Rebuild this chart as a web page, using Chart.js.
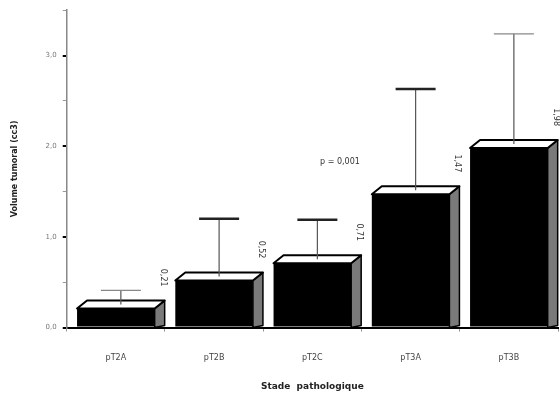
<!DOCTYPE html>
<html>
<head>
<meta charset="utf-8">
<script src="https://cdn.jsdelivr.net/npm/chart.js@4"></script>
<style>
  html, body { margin: 0; padding: 0; background: #fff; }
  #wrap { width: 560px; height: 403px; position: relative; }
</style>
</head>
<body>
<div id="wrap"><canvas id="volumeChart"></canvas></div>
<script>
const stades = ['pT2A', 'pT2B', 'pT2C', 'pT3A', 'pT3B'];
const volumes = [0.21, 0.52, 0.71, 1.47, 1.98];
const errTops = [0.41, 1.20, 1.19, 2.63, 3.24];
const valueLabels = ['0,21', '0,52', '0,71', '1,47', '1,98'];
const pNote = 'p = 0,001';

const depthX = 10;
const depthY = 8;

// draws the fake 3D faces, the error bars and the rotated values
const bar3d = {
  id: 'bar3d',
  afterDatasetsDraw(chart) {
    const c = chart.ctx;
    const y = chart.scales.y;
    const meta = chart.getDatasetMeta(0);
    const base = y.getPixelForValue(0);
    meta.data.forEach((bar, i) => {
      const x0 = bar.x - bar.width / 2;
      const x1 = bar.x + bar.width / 2;
      const top = bar.y;
      c.save();
      c.lineJoin = 'round';
      // side
      c.beginPath();
      c.moveTo(x1, top);
      c.lineTo(x1 + depthX, top - depthY);
      c.lineTo(x1 + depthX, base - 2);
      c.lineTo(x1, base);
      c.closePath();
      c.fillStyle = '#7a7a7a';
      c.fill();
      c.strokeStyle = '#000';
      c.lineWidth = 1.5;
      c.stroke();
      // top face
      c.beginPath();
      c.moveTo(x0, top);
      c.lineTo(x0 + depthX, top - depthY);
      c.lineTo(x1 + depthX, top - depthY);
      c.lineTo(x1, top);
      c.closePath();
      c.fillStyle = '#fff';
      c.fill();
      c.lineWidth = 2;
      c.stroke();
      // error bar
      const ex = bar.x + depthX / 2;
      const ey = y.getPixelForValue(errTops[i]);
      c.beginPath();
      c.moveTo(ex, top - depthY / 2);
      c.lineTo(ex, ey);
      c.strokeStyle = '#555';
      c.lineWidth = 1.2;
      c.stroke();
      c.beginPath();
      c.moveTo(ex - 20, ey);
      c.lineTo(ex + 20, ey);
      c.strokeStyle = (i === 0 || i === 4) ? '#888' : '#222';
      c.lineWidth = (i === 0 || i === 4) ? 1.2 : 2.5;
      c.stroke();
      // rotated value label
      c.translate(x1 + depthX - 2, top - depthY - 14);
      c.rotate(Math.PI / 2);
      c.fillStyle = '#333';
      c.font = '8px "DejaVu Sans"';
      c.textAlign = 'right';
      c.textBaseline = 'middle';
      c.fillText(valueLabels[i], 0, 0);
      c.restore();
    });
    // p value note beside pT3A
    const b3 = meta.data[3];
    c.save();
    c.fillStyle = '#333';
    c.font = '8px "DejaVu Sans"';
    c.textAlign = 'right';
    c.textBaseline = 'middle';
    c.fillText(pNote, b3.x - b3.width / 2 - 12, y.getPixelForValue(1.83));
    c.restore();
  }
};

const ctx = document.getElementById('volumeChart');
const config = {
  type: 'bar',
  data: {
    labels: stades,
    datasets: [{
      data: volumes,
      backgroundColor: '#000',
      borderColor: '#000',
      borderWidth: 0,
      barPercentage: 0.79,
      categoryPercentage: 1.0
    }]
  },
  options: {
    responsive: true,
    maintainAspectRatio: false,
    animation: false,
    layout: {
      padding: { top: 6, right: 2, left: 6, bottom: 7 }
    },
    plugins: {
      legend: { display: false },
      tooltip: { enabled: false }
    },
    scales: {
      x: {
        grid: {
          drawOnChartArea: false,
          tickLength: 4,
          color: '#999'
        },
        border: { color: '#000', width: 2 },
        ticks: {
          color: '#444',
          font: { family: 'DejaVu Sans', size: 8 },
          padding: 22
        },
        title: {
          display: true,
          text: 'Stade  pathologique',
          color: '#222',
          font: { family: 'DejaVu Sans', size: 9, weight: 'bold' },
          padding: { top: -4 }
        }
      },
      y: {
        min: 0,
        max: 3.5,
        grid: {
          drawOnChartArea: false,
          tickLength: 4,
          color: (c) => (c.tick && c.tick.value % 1 === 0) ? '#000' : '#999',
          lineWidth: (c) => (c.tick && c.tick.value % 1 === 0) ? 2 : 1
        },
        border: { color: '#888', width: 1.5 },
        ticks: {
          stepSize: 0.5,
          color: '#777',
          font: { family: 'DejaVu Sans', size: 7 },
          padding: 6,
          callback: (v) => (v % 1 === 0) ? v.toFixed(1).replace('.', ',') : ''
        },
        title: {
          display: true,
          text: 'Volume tumoral (cc3)',
          color: '#222',
          font: { family: 'DejaVu Sans', size: 8, weight: 'bold' },
          padding: { bottom: 20 }
        }
      }
    }
  },
  plugins: [bar3d]
};

const volumeChart = new Chart(ctx, config);
</script>
</body>
</html>
